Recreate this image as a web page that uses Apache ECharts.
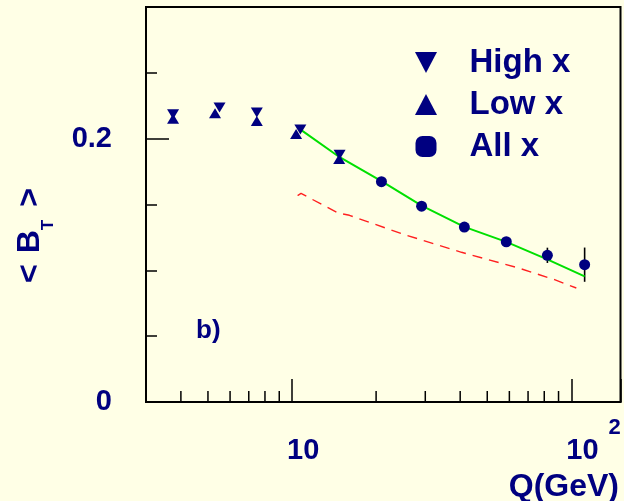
<!DOCTYPE html>
<html>
<head>
<meta charset="utf-8">
<script src="https://cdn.jsdelivr.net/npm/echarts@6/dist/echarts.min.js"></script>
<style>
  html, body { margin: 0; padding: 0; background: #ffffe6; }
  #chart { width: 624px; height: 501px; }
</style>
</head>
<body>
<div id="chart"></div>
<script>
// Mean broadening <B_T> versus the scale Q (GeV)
const highXQ = [3.75, 5.50, 7.48, 10.71, 14.8];
const highXB = [0.2185, 0.2236, 0.2198, 0.2069, 0.1878];

const lowXQ = [3.75, 5.30, 7.48, 10.34, 14.75];
const lowXB = [0.2152, 0.2193, 0.2134, 0.2035, 0.1845];

const allXQ = [20.9, 29.1, 41.4, 58.5, 82.1, 111.6];
const allXB = [0.1673, 0.1487, 0.1329, 0.1217, 0.1114, 0.1043];
const allXErr = [0.003, 0.003, 0.003, 0.003, 0.0058, 0.013];

// full calculation (solid) and its reference curve (dashed)
const fitQ = [10.7, 14.6, 20.9, 29.1, 41.4, 58.5, 82.4, 111.6];
const fitB = [0.2071, 0.1868, 0.1677, 0.1492, 0.1330, 0.1216, 0.1081, 0.0954];

const refQ = [10.47, 10.77, 14.57, 16.05, 25.27, 40.45, 64.2, 87.1, 104.2];
const refB = [0.1568, 0.1584, 0.1437, 0.1418, 0.1271, 0.1137, 0.1020, 0.0929, 0.0866];

// axis ticks and labels
const xLabelValues = [10, 100];
const xMinorTicks = [4, 5, 6, 7, 8, 9, 20, 30, 40, 50, 60, 70, 80, 90];
const yLabelValues = [0, 0.2];

const NAVY = '#000080';
const FONT = 'Liberation Sans, Arial, Helvetica, sans-serif';

const pairs = (xs, ys) => xs.map((x, i) => [x, ys[i]]);
const near = (a, b) => Math.abs(a - b) < 1e-6 * Math.max(1, Math.abs(b));

const chart = echarts.init(document.getElementById('chart'), null, { renderer: 'canvas' });

chart.setOption({
  animation: false,
  backgroundColor: '#ffffe6',
  textStyle: { fontFamily: FONT },
  grid: {
    left: 146, right: 3.5, top: 7, bottom: 99,
    show: true, borderColor: '#000', borderWidth: 2,
    backgroundColor: 'transparent',
    containLabel: false, outerBoundsMode: 'none'
  },
  legend: {
    orient: 'vertical',
    left: 415, top: 46,
    padding: 0,
    itemWidth: 77, itemHeight: 21, itemGap: 9,
    textStyle: { fontSize: 33, fontWeight: 'bold', color: NAVY, fontFamily: FONT, lineHeight: 33 },
    data: [
      { name: 'High x', icon: 'path://M0,0L22,0L11,21Z' },
      { name: 'Low x', icon: 'path://M11,0L22,21L0,21Z' },
      { name: 'All x', icon: 'path://M7,0H14A7,7 0 0 1 21,7V14A7,7 0 0 1 14,21H7A7,7 0 0 1 0,14V7A7,7 0 0 1 7,0Z' }
    ]
  },
  xAxis: {
    type: 'log', logBase: 10, min: 3, max: 150,
    name: 'Q(GeV)', nameLocation: 'end', nameGap: -1.5, nameMoveOverlap: false,
    nameTextStyle: {
      fontSize: 32, fontWeight: 'bold', color: NAVY, fontFamily: FONT,
      align: 'right', verticalAlign: 'top', lineHeight: 32, padding: [69, 0, 0, 0]
    },
    axisLine: { show: true, lineStyle: { color: '#000', width: 2 } },
    axisTick: { show: true, inside: true, length: 23, lineStyle: { color: '#000', width: 1.5 } },
    splitLine: { show: false },
    axisLabel: {
      show: true, margin: 13.5, align: 'left', verticalAlign: 'top',
      formatter: function (v) {
        if (near(v, xLabelValues[0])) return '{b|10}';
        if (near(v, xLabelValues[1])) return '{b|10}{sup|2}';
        return '';
      },
      rich: {
        b: { fontSize: 29, fontWeight: 'bold', color: NAVY, fontFamily: FONT, lineHeight: 30, verticalAlign: 'top', padding: [21, 0, 0, -5] },
        sup: { fontSize: 22, fontWeight: 'bold', color: NAVY, fontFamily: FONT, lineHeight: 20, verticalAlign: 'top', padding: [1, 0, 0, 10] }
      }
    }
  },
  yAxis: [
    {
      type: 'value', min: 0, max: 0.3, interval: 0.05,
      name: '{a|<}{m|B}{s|T}{e|>}',
      nameLocation: 'middle', nameRotate: 90, nameGap: 96, nameMoveOverlap: false,
      nameTextStyle: {
        rich: {
          a: { fontSize: 32, fontWeight: 'bold', color: NAVY, fontFamily: FONT, lineHeight: 36, verticalAlign: 'top', padding: [0, 11, 0, 0] },
          m: { fontSize: 32, fontWeight: 'bold', color: NAVY, fontFamily: FONT, lineHeight: 36, verticalAlign: 'top' },
          s: { fontSize: 17, fontWeight: 'bold', color: NAVY, fontFamily: FONT, lineHeight: 20, verticalAlign: 'top', padding: [25.5, 0, 0, 0] },
          e: { fontSize: 32, fontWeight: 'bold', color: NAVY, fontFamily: FONT, lineHeight: 36, verticalAlign: 'top', padding: [0, 62, 0, 13] }
        }
      },
      axisLine: { show: true, lineStyle: { color: '#000', width: 2 } },
      axisTick: { show: true, inside: true, length: 11, lineStyle: { color: '#000', width: 1.5 } },
      splitLine: { show: false },
      axisLabel: {
        show: true, margin: 34, padding: [8, 0, 0, 0],
        fontSize: 29, fontWeight: 'bold', color: NAVY, fontFamily: FONT,
        formatter: function (v) {
          for (const t of yLabelValues) if (near(v, t)) return String(t);
          return '';
        }
      }
    },
    {
      // longer ticks at the labelled values
      type: 'value', min: 0, max: 0.3, interval: 0.2, position: 'left',
      axisLine: { show: false },
      axisTick: { show: true, inside: true, length: 23, lineStyle: { color: '#000', width: 1.5 } },
      axisLabel: { show: false },
      splitLine: { show: false }
    }
  ],
  series: [
    {
      name: 'minor ticks',
      type: 'custom',
      silent: true,
      data: xMinorTicks.map(q => [q, 0]),
      renderItem: function (params, api) {
        const p = api.coord([api.value(0), 0]);
        return {
          type: 'line',
          shape: { x1: p[0], y1: p[1], x2: p[0], y2: p[1] - 11 },
          style: { stroke: '#000', lineWidth: 1.5 }
        };
      },
      z: 1
    },
    {
      name: 'All x errors',
      type: 'custom',
      silent: true,
      data: allXQ.map((q, i) => [q, allXB[i], allXErr[i]]),
      renderItem: function (params, api) {
        const q = api.value(0), b = api.value(1), e = api.value(2);
        const lo = api.coord([q, b - e]);
        const hi = api.coord([q, b + e]);
        return {
          type: 'line',
          shape: { x1: lo[0], y1: lo[1], x2: hi[0], y2: hi[1] },
          style: { stroke: '#000', lineWidth: 1.6 }
        };
      },
      z: 2
    },
    {
      name: 'fit',
      type: 'line',
      data: pairs(fitQ, fitB),
      showSymbol: false,
      lineStyle: { color: '#00e000', width: 2 },
      z: 3
    },
    {
      name: 'reference',
      type: 'line',
      data: pairs(refQ, refB),
      showSymbol: false,
      lineStyle: { color: '#ff2020', width: 1.4, type: [10, 7] },
      z: 3
    },
    {
      name: 'High x',
      type: 'scatter',
      data: pairs(highXQ, highXB),
      symbol: 'triangle', symbolRotate: 180, symbolSize: [12, 10],
      itemStyle: { color: NAVY, opacity: 1 },
      z: 5
    },
    {
      name: 'Low x',
      type: 'scatter',
      data: pairs(lowXQ, lowXB),
      symbol: 'triangle', symbolSize: [12, 10],
      itemStyle: { color: NAVY, opacity: 1 },
      z: 5
    },
    {
      name: 'All x',
      type: 'scatter',
      data: pairs(allXQ, allXB),
      symbol: 'circle', symbolSize: 11,
      itemStyle: { color: NAVY, opacity: 1 },
      z: 5
    }
  ],
  graphic: [
    {
      type: 'text', left: 196, top: 318,
      style: { text: 'b)', fill: NAVY, font: 'bold 26px ' + FONT }
    }
  ]
});
</script>
</body>
</html>
